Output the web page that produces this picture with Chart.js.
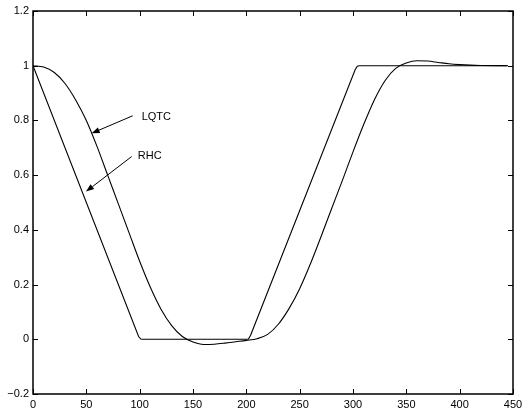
<!DOCTYPE html>
<html><head><meta charset="utf-8">
<script src="https://cdn.jsdelivr.net/npm/chart.js@4/dist/chart.umd.min.js"></script>
<style>html,body{margin:0;padding:0;background:#fff}#wrap{width:528px;height:415px}</style>
</head><body><div id="wrap"><canvas id="c" width="528" height="415"></canvas></div>
<script>
// ---- data ----
const rhcX = [0, 99, 101, 103, 200, 202, 204, 302, 304, 306, 445];
const rhcY = [1, 0.01, 0.001, 0, 0, 0.001, 0.015, 0.985, 0.998, 1, 1];
const lqtcX = [0,10,20,30,40,50,60,70,80,90,100,110,120,130,140,150,160,170,180,190,200,210,220,230,240,250,260,270,280,290,300,310,320,330,340,350,360,370,380,390,400,410,420,445];
const lqtcY = [1,0.995,0.975,0.935,0.875,0.8,0.705,0.6,0.495,0.39,0.285,0.19,0.11,0.05,0.01,-0.01,-0.019,-0.018,-0.014,-0.009,-0.004,0.002,0.018,0.055,0.112,0.185,0.275,0.375,0.478,0.58,0.685,0.785,0.875,0.945,0.99,1.01,1.018,1.017,1.012,1.007,1.004,1.002,1.001,1.0];
const xTicks = [0,50,100,150,200,250,300,350,400,450];
const xTickLabels = ['0','50','100','150','200','250','300','350','400','450'];
const yTicks = [-0.2,0,0.2,0.4,0.6,0.8,1,1.2];
const yTickLabels = ['\u22120.2','0','0.2','0.4','0.6','0.8','1','1.2'];
const labelNames = ['LQTC','RHC'];
const labelText = [[101.9,0.814],[98.2,0.670]];
const arrowTail = [[93.5,0.817],[92.5,0.668]];
const arrowTip = [[55.0,0.753],[49.7,0.540]];

const FONT = '11px "Liberation Sans", Arial, Helvetica, sans-serif';
const toXY = (xs, ys) => xs.map((x, i) => ({x, y: ys[i]}));

const framePlugin = {
  id: 'frame',
  afterDatasetsDraw(chart) {
    const {ctx, chartArea: a, scales: {x, y}} = chart;
    ctx.save();
    ctx.strokeStyle = '#000';
    ctx.lineWidth = 1;
    ctx.beginPath();
    xTicks.forEach(v => {
      const px = Math.round(x.getPixelForValue(v)) + 0.5;
      ctx.moveTo(px, a.bottom); ctx.lineTo(px, a.bottom - 5);
      ctx.moveTo(px, a.top); ctx.lineTo(px, a.top + 5);
    });
    yTicks.forEach(v => {
      const py = Math.round(y.getPixelForValue(v)) + 0.5;
      ctx.moveTo(a.left, py); ctx.lineTo(a.left + 5, py);
      ctx.moveTo(a.right, py); ctx.lineTo(a.right - 5, py);
    });
    ctx.stroke();
    ctx.lineWidth = 1.5;
    ctx.strokeRect(a.left, a.top, a.right - a.left, a.bottom - a.top);
    // annotations
    ctx.lineWidth = 1;
    ctx.fillStyle = '#000';
    ctx.font = FONT;
    ctx.textBaseline = 'middle';
    ctx.textAlign = 'left';
    labelNames.forEach((name, i) => {
      const tx = x.getPixelForValue(arrowTail[i][0]), ty = y.getPixelForValue(arrowTail[i][1]);
      const hx = x.getPixelForValue(arrowTip[i][0]), hy = y.getPixelForValue(arrowTip[i][1]);
      const ang = Math.atan2(hy - ty, hx - tx);
      const L = 8, W = 3;
      const bx = hx - L * Math.cos(ang), by = hy - L * Math.sin(ang);
      ctx.beginPath(); ctx.moveTo(tx, ty); ctx.lineTo(bx, by); ctx.stroke();
      ctx.beginPath();
      ctx.moveTo(hx, hy);
      ctx.lineTo(bx + W * Math.sin(ang), by - W * Math.cos(ang));
      ctx.lineTo(bx - W * Math.sin(ang), by + W * Math.cos(ang));
      ctx.closePath(); ctx.fill();
      ctx.fillText(name, x.getPixelForValue(labelText[i][0]), y.getPixelForValue(labelText[i][1]));
    });
    ctx.restore();
  }
};

new Chart(document.getElementById('c'), {
  type: 'line',
  data: {
    datasets: [
      {label: labelNames[1], data: toXY(rhcX, rhcY), borderColor: '#000', borderWidth: 1.1, pointRadius: 0, tension: 0, fill: false},
      {label: labelNames[0], data: toXY(lqtcX, lqtcY), borderColor: '#000', borderWidth: 1.1, pointRadius: 0, cubicInterpolationMode: 'monotone', fill: false}
    ]
  },
  options: {
    responsive: false, animation: false, devicePixelRatio: 1,
    layout: {padding: {top: 11, right: 15, left: 0, bottom: 0}},
    plugins: {legend: {display: false}, tooltip: {enabled: false}},
    scales: {
      x: {
        type: 'linear', min: 0, max: 450,
        afterBuildTicks: s => { s.ticks = xTicks.map(v => ({value: v})); },
        afterFit: s => { s.height = 21; },
        grid: {display: false, drawTicks: false},
        border: {display: false},
        ticks: {color: '#000', font: {family: '"Liberation Sans", Arial, sans-serif', size: 11}, padding: 4, maxRotation: 0,
          callback: (v, i) => xTickLabels[i]}
      },
      y: {
        type: 'linear', min: -0.2, max: 1.2,
        afterBuildTicks: s => { s.ticks = yTicks.map(v => ({value: v})); },
        afterFit: s => { s.width = 33; },
        grid: {display: false, drawTicks: false},
        border: {display: false},
        ticks: {color: '#000', font: {family: '"Liberation Sans", Arial, sans-serif', size: 11}, padding: 4,
          callback: (v, i) => yTickLabels[i]}
      }
    }
  },
  plugins: [framePlugin]
});
</script>
</body></html>
